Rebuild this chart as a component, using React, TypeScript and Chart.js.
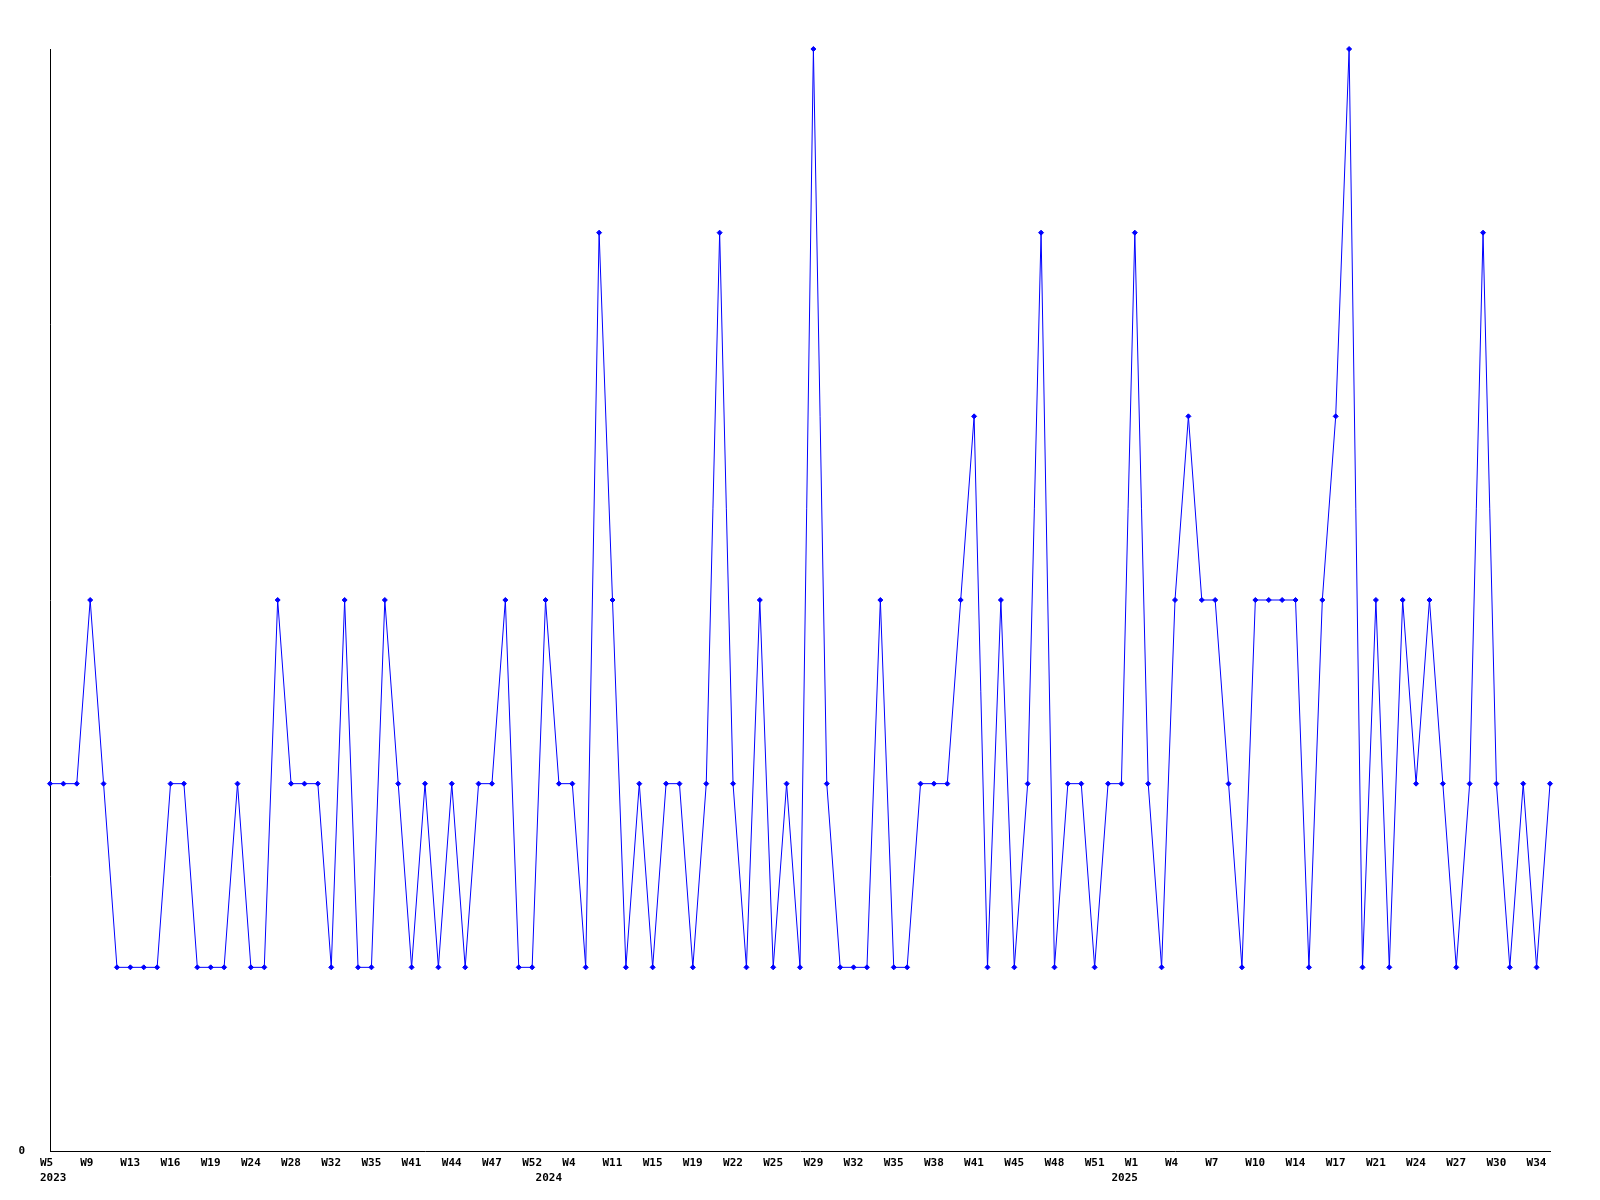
import React, { useEffect, useRef } from "react";
import { Chart, registerables } from "chart.js";

Chart.register(...registerables);

const weekLabels: string[] = [
  "W5", "W6", "W8", "W9", "W10", "W12", "W13", "W14", "W15", "W16",
  "W17", "W18", "W19", "W21", "W23", "W24", "W26", "W27", "W28", "W30",
  "W31", "W32", "W33", "W34", "W35", "W37", "W39", "W41", "W42", "W43",
  "W44", "W45", "W46", "W47", "W49", "W51", "W52", "W1", "W2", "W4",
  "W6", "W9", "W11", "W12", "W14", "W15", "W17", "W18", "W19", "W20",
  "W21", "W22", "W23", "W24", "W25", "W26", "W28", "W29", "W30", "W31",
  "W32", "W33", "W34", "W35", "W36", "W37", "W38", "W39", "W40", "W41",
  "W43", "W44", "W45", "W46", "W47", "W48", "W49", "W50", "W51", "W52",
  "W53", "W1", "W2", "W3", "W4", "W5", "W6", "W7", "W8", "W9",
  "W10", "W12", "W13", "W14", "W15", "W16", "W17", "W18", "W20", "W21",
  "W22", "W23", "W24", "W25", "W26", "W27", "W28", "W29", "W30", "W31",
  "W33", "W34", "W35",
];

const seriesValues: number[] = [
  2, 2, 2, 3, 2, 1, 1, 1, 1, 2,
  2, 1, 1, 1, 2, 1, 1, 3, 2, 2,
  2, 1, 3, 1, 1, 3, 2, 1, 2, 1,
  2, 1, 2, 2, 3, 1, 1, 3, 2, 2,
  1, 5, 3, 1, 2, 1, 2, 2, 1, 2,
  5, 2, 1, 3, 1, 2, 1, 6, 2, 1,
  1, 1, 3, 1, 1, 2, 2, 2, 3, 4,
  1, 3, 1, 2, 5, 1, 2, 2, 1, 2,
  2, 5, 2, 1, 3, 4, 3, 3, 2, 1,
  3, 3, 3, 3, 1, 3, 4, 6, 1, 3,
  1, 3, 2, 3, 2, 1, 2, 5, 2, 1,
  2, 1, 2,
];

const yearLabelIndex: number[] = [0, 37, 80];
const yearLabelText: string[] = ["2023", "2024", "2025"];
const tickEvery = 3;

const tickFont = { family: "'DejaVu Sans Mono', monospace", size: 11, weight: "bold" as const, lineHeight: 1.4 };

export default function App() {
  const ref = useRef<HTMLCanvasElement | null>(null);

  useEffect(() => {
    if (!ref.current) return;
    const chart = new Chart(ref.current, {
      type: "line",
      data: {
        labels: weekLabels,
        datasets: [
          {
            data: seriesValues,
            borderColor: "#0000ff",
            backgroundColor: "#0000ff",
            borderWidth: 1,
            pointStyle: "rectRot",
            pointRadius: 2.5,
            pointBorderWidth: 1,
            pointBorderColor: "#0000ff",
            pointBackgroundColor: "#0000ff",
            tension: 0,
            fill: false,
            clip: false,
          },
        ],
      },
      options: {
        animation: false,
        responsive: true,
        maintainAspectRatio: false,
        layout: { padding: { top: 41, right: 42, bottom: 0, left: 0 } },
        plugins: { legend: { display: false }, tooltip: { enabled: false } },
        scales: {
          x: {
            type: "category",
            offset: false,
            grid: { display: false, drawTicks: false },
            border: { display: true, color: "#000", width: 1 },
            afterFit: (s: any) => { s.height = 41; },
            ticks: {
              autoSkip: false,
              maxRotation: 0,
              minRotation: 0,
              align: "start",
              labelOffset: -10,
              padding: 4,
              color: "#000",
              font: tickFont,
              callback: (_v: any, index: number) => {
                const w = index % tickEvery === 0 ? weekLabels[index] : "";
                const yi = yearLabelIndex.indexOf(index);
                const y = yi >= 0 ? yearLabelText[yi] : "";
                return [w, y];
              },
            },
          },
          y: {
            min: 0,
            max: 6,
            grid: { display: false, drawTicks: false },
            border: { display: true, color: "#000", width: 1 },
            afterFit: (s: any) => { s.width = 42; },
            ticks: {
              stepSize: 1,
              padding: 25,
              color: "#000",
              font: tickFont,
              callback: (v: any) => (Number(v) === 0 ? "0" : ""),
            },
          },
        },
      },
    });
    return () => chart.destroy();
  }, []);

  return (
    <div style={{ width: 1584, height: 1184, position: "relative" }}>
      <canvas ref={ref} />
    </div>
  );
}
